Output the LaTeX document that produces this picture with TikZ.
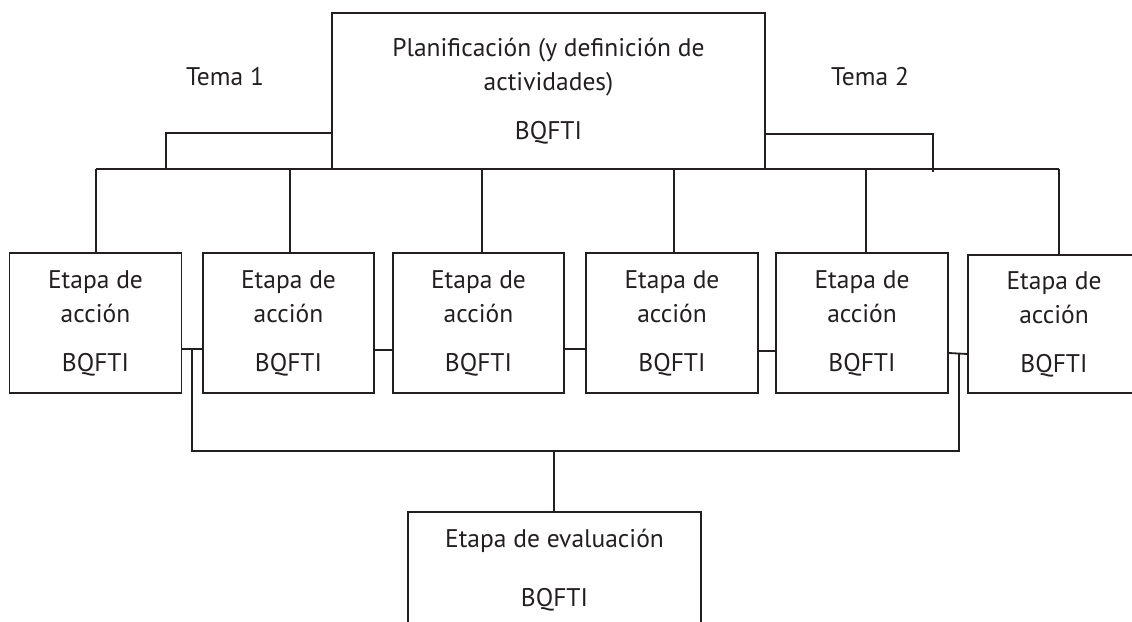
\documentclass[tikz,border=0pt]{standalone}
\usepackage{fontspec}
\setmainfont{PT Sans}
\definecolor{ink}{HTML}{231F20}
\begin{document}
\begin{tikzpicture}[x=1pt,y=-1pt,
    stage/.style={draw=ink,line width=1.8pt,rectangle,align=center,inner sep=0pt,text=ink,
      font=\fontsize{25.5}{34}\selectfont},
    action/.style={stage,minimum width=172pt,minimum height=140pt},
    label/.style={text=ink,font=\fontsize{25.5}{34}\selectfont},
    link/.style={draw=ink,line width=1.8pt}]
    \clip (0,0) rectangle (1132,621);

    \node[stage,minimum width=433pt,minimum height=156pt] (plan) at (548.5,91)
      {Planificación (y definición de\\actividades)\\[15pt]BQFTI};

    \node[label] (tema1) at (225,77) {Tema 1};
    \node[label] (tema2) at (870,77) {Tema 2};

    \node[action] (a1) at (95.5,323) {Etapa de\\acción\\[15pt]BQFTI};
    \node[action,minimum width=171pt] (a2) at (288.5,323) {Etapa de\\acción\\[15pt]BQFTI};
    \node[action,minimum width=171pt] (a3) at (478.5,323) {Etapa de\\acción\\[15pt]BQFTI};
    \node[action] (a4) at (672,323) {Etapa de\\acción\\[15pt]BQFTI};
    \node[action] (a5) at (862,323) {Etapa de\\acción\\[15pt]BQFTI};
    \node[action,minimum height=138pt] (a6) at (1054,324) {Etapa de\\acción\\[15pt]BQFTI};

    \node[stage,minimum width=293pt,minimum height=116pt] (eval) at (554.5,570)
      {Etapa de evaluación\\[25pt]BQFTI};

    % upper bus
    \coordinate (busL) at (96,169);
    \coordinate (busR) at (1059,169);
    \coordinate (t1) at (166,169);
    \coordinate (t2) at (933,172);
    \draw[link] (busL) -- (busR);
    \draw[link] ([yshift=-42pt]plan.west) -| (t1);
    \draw[link] ([yshift=-43pt]plan.east) -| (t2);
    \foreach \n/\dx in {a1/0.5,a2/1.5,a3/3.5,a4/2,a5/4,a6/5}
      \draw[link] ([xshift=\dx pt]\n.north) -- ([xshift=\dx pt]\n.north |- busL);

    % links between stages
    \draw[link] ([yshift=-26pt]a1.east) -- ([yshift=-26pt]a2.west);
    \draw[link] ([yshift=-27pt]a2.east) -- ([yshift=-27pt]a3.west);
    \draw[link] ([yshift=-26pt]a3.east) -- ([yshift=-26pt]a4.west);
    \draw[link] ([yshift=-28pt]a4.east) -- ([yshift=-28pt]a5.west);
    \draw[link] ([yshift=-30pt]a5.east) -- ([yshift=-30pt]a6.west);

    % lower bus
    \coordinate (j1) at (192,349);
    \coordinate (j2) at (959,353);
    \coordinate (e1) at (192,451);
    \coordinate (e2) at (959,451);
    \draw[link] (j1) -- (e1) -- (e2) -- (j2);
    \draw[link] ([xshift=-0.5pt]eval.north) -- ([xshift=-0.5pt]eval.north |- e1);
\end{tikzpicture}
\end{document}
